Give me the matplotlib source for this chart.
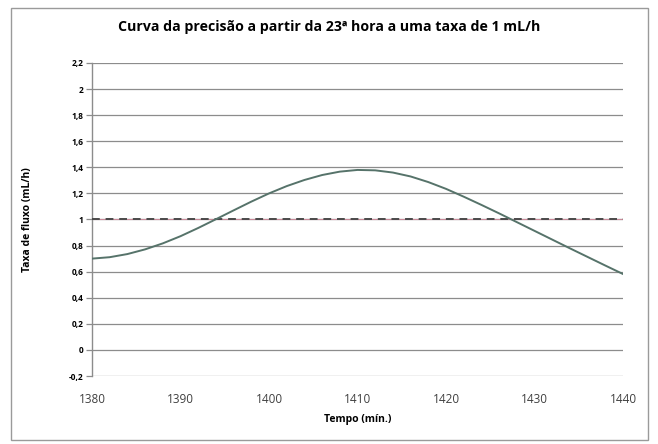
import matplotlib.pyplot as plt
from matplotlib.patches import Rectangle

# data
tempo = [1380, 1382, 1384, 1386, 1388, 1390, 1392, 1394, 1396, 1398, 1400,
         1402, 1404, 1406, 1408, 1410, 1412, 1414, 1416, 1418, 1420,
         1422, 1424, 1426, 1428, 1430, 1432, 1434, 1436, 1438, 1440]
fluxo = [0.700, 0.711, 0.735, 0.771, 0.817, 0.872, 0.935, 1.002, 1.070, 1.137, 1.200,
         1.256, 1.303, 1.341, 1.367, 1.380, 1.377, 1.360, 1.330, 1.287, 1.235,
         1.175, 1.112, 1.047, 0.980, 0.913, 0.846, 0.779, 0.713, 0.647, 0.582]
taxa_alvo = 1.0
yticks = [-0.2, 0, 0.2, 0.4, 0.6, 0.8, 1, 1.2, 1.4, 1.6, 1.8, 2, 2.2]
ylabels = ['-0,2', '0', '0,2', '0,4', '0,6', '0,8', '1', '1,2', '1,4', '1,6', '1,8', '2', '2,2']
xticks = [1380, 1390, 1400, 1410, 1420, 1430, 1440]

plt.rcParams['font.family'] = ['Open Sans', 'DejaVu Sans']

fig = plt.figure(figsize=(6.58, 4.44), dpi=100)
fig.patches.append(Rectangle((11 / 658, 4 / 444), 637 / 658, 432 / 444,
                             transform=fig.transFigure, fill=False,
                             edgecolor='#9a9a9a', linewidth=1.0))

ax = fig.add_axes([92 / 658, 1 - 376 / 444, 531 / 658, 313 / 444])
ax.set_xlim(1380, 1440)
ax.set_ylim(-0.2, 2.2)

grid_c = '#8c8c8c'
for y in yticks:
    ax.axhline(y, color=grid_c, linewidth=0.9, zorder=1)

# target rate: thin red line with dark dashes on top
ax.plot([tempo[0], tempo[-1]], [taxa_alvo, taxa_alvo], color='#c98a99', linewidth=0.8, zorder=2)
ax.plot([tempo[0], tempo[-1]], [taxa_alvo, taxa_alvo], color='#4a4a4a', linewidth=1.4,
        dashes=(4, 3), zorder=3)
ax.plot(tempo, fluxo, color='#56736a', linewidth=1.4, zorder=4, solid_joinstyle='round')

for s in ['top', 'right', 'bottom']:
    ax.spines[s].set_visible(False)
ax.spines['left'].set_color(grid_c)
ax.spines['left'].set_linewidth(1.0)

ax.set_yticks(yticks)
ax.set_yticklabels(ylabels, fontsize=6, fontweight='bold')
ax.tick_params(axis='y', length=4.3, width=0.9, color=grid_c, pad=2)

ax.set_xticks(xticks)
ax.set_xticklabels([str(x) for x in xticks], fontsize=8.5, color='#404040')
ax.tick_params(axis='x', length=0, pad=12)

ax.set_xlabel('Tempo (mín.)', fontsize=7.5, fontweight='bold', labelpad=6)
ax.set_ylabel('Taxa de fluxo (mL/h)', fontsize=7.5, fontweight='bold', labelpad=26)
fig.text(0.5, 1 - 27 / 444, 'Curva da precisão a partir da 23ª hora a uma taxa de 1 mL/h',
         ha='center', va='center', fontsize=10.2, fontweight='bold')

fig.savefig('out.png', dpi=100)
